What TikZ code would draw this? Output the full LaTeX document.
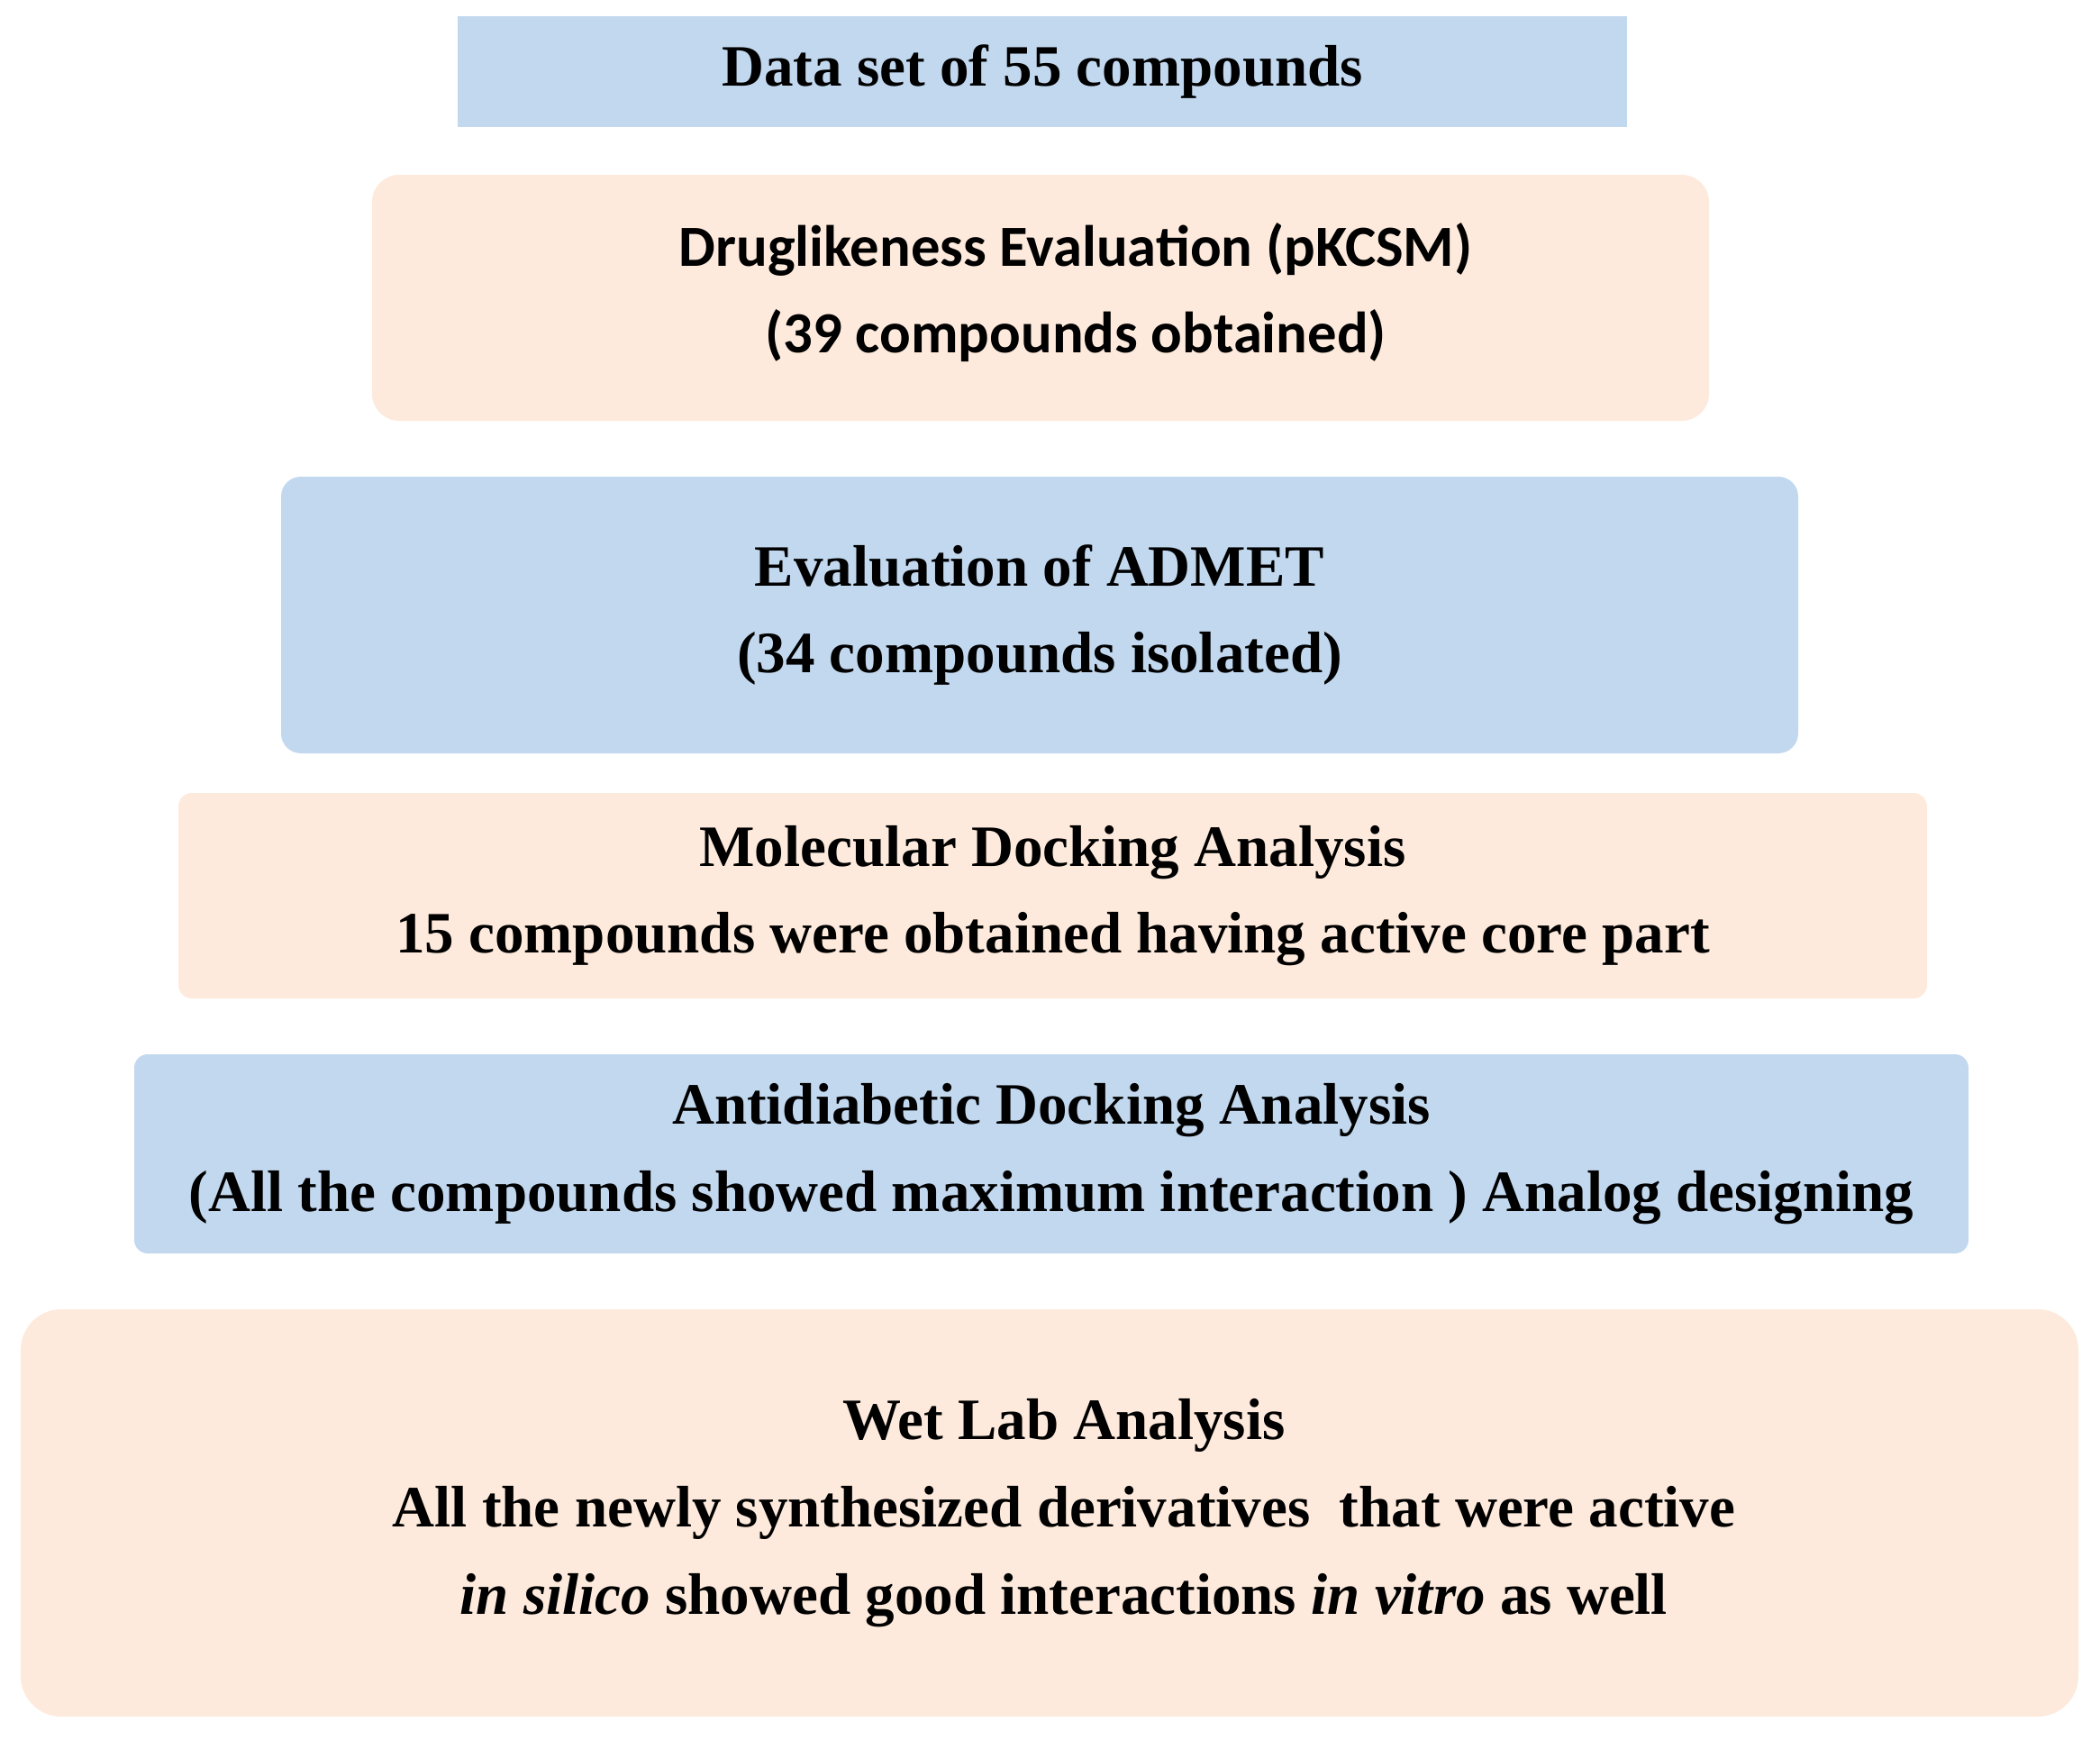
\documentclass[tikz,border=0pt]{standalone}
\usepackage{fontspec}
\setmainfont{Liberation Serif}
\newfontfamily\calibri{Carlito}
\usetikzlibrary{positioning}
\definecolor{stageblue}{HTML}{C2D8EF}
\definecolor{stagepeach}{HTML}{FDEADC}

\begin{document}
\begin{tikzpicture}[
  font=\fontsize{18.5}{27.5}\selectfont\bfseries,
  stage/.style={rectangle,inner sep=0pt,align=center,text=black},
  blue stage/.style={stage,fill=stageblue},
  peach stage/.style={stage,fill=stagepeach}
]
\useasboundingbox (0,0) rectangle (23.31,-19.31);

% screening funnel, widest box at the bottom
\node[blue stage,minimum width=12.98cm,minimum height=1.23cm] (data) at (11.57,-0.795) {Data set of 55 compounds};

\node[peach stage,rounded corners=3mm,minimum width=14.84cm,minimum height=2.73cm] (drug) at (11.55,-3.305) {};
\node[font=\fontsize{18.4}{27.5}\selectfont\calibri\bfseries,align=center] (drugtxt) at ([xshift=3.9mm,yshift=0.6mm]drug.center) {Druglikeness Evaluation (pKCSM)\\(39 compounds obtained)};

\node[blue stage,rounded corners=2.2mm,minimum width=16.84cm,minimum height=3.07cm] (admet) at (11.54,-6.825) {Evaluation of ADMET\\(34 compounds isolated)};

\node[peach stage,rounded corners=1.5mm,minimum width=19.41cm,minimum height=2.28cm] (mol) at (11.685,-9.94) {Molecular Docking Analysis\\15 compounds were obtained having active core part};

\node[blue stage,rounded corners=1.5mm,minimum width=20.36cm,minimum height=2.21cm] (anti) at (11.67,-12.805) {Antidiabetic Docking Analysis\\(All the compounds showed maximum interaction ) Analog designing};

\node[peach stage,rounded corners=4.5mm,minimum width=22.84cm,minimum height=4.52cm] (wet) at (11.65,-16.79) {};
\node[align=center] (wettxt) at ([xshift=1.6mm]wet.center) {Wet Lab Analysis\\All the newly synthesized derivatives~ that were active\\\textit{in silico} showed good interactions \textit{in vitro} as well};
\end{tikzpicture}
\end{document}
